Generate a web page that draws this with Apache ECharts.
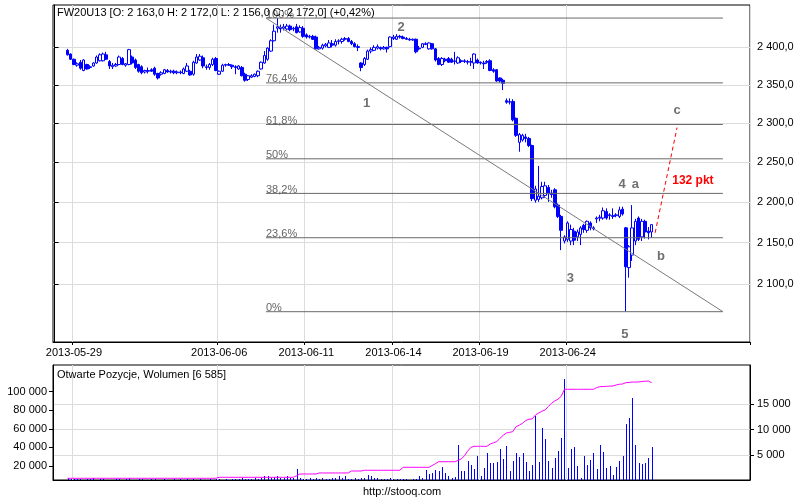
<!DOCTYPE html>
<html><head><meta charset="utf-8">
<script src="https://cdn.jsdelivr.net/npm/echarts@6/dist/echarts.min.js"></script>
<style>html,body{margin:0;padding:0;background:#fff}#c{width:800px;height:500px}</style>
</head><body><div id="c"></div>
<script>
// ---------- data ----------
const tradingDays = ['2013-05-28','2013-05-29','2013-05-31','2013-06-03','2013-06-04','2013-06-05','2013-06-06','2013-06-07','2013-06-10','2013-06-11','2013-06-12','2013-06-13','2013-06-14','2013-06-17','2013-06-18','2013-06-19','2013-06-20','2013-06-21','2013-06-24','2013-06-25','2013-06-26'];
const barsPerDay = [2,9,9,9,9,9,9,9,9,9,9,9,9,9,9,9,9,9,9,9,9];
const labelDates = ['2013-05-29','2013-06-06','2013-06-11','2013-06-14','2013-06-19','2013-06-24'];

// hourly candles [open, high, low, close]
const candles = [
[2396,2398,2389,2390],[2391,2392,2383,2384],[2384,2385,2376,2377],[2376,2380,2374,2378],[2380,2383,2370,2372],
[2369,2384,2368,2383],[2377,2378,2370,2371],[2373,2376,2371,2374],[2375,2380,2374,2379],[2379,2389,2378,2387],
[2382,2392,2381,2390],[2382,2393,2381,2391],[2390,2394,2383,2384],[2381,2383,2371,2375],[2374,2379,2371,2376],
[2375,2379,2374,2377],[2377,2389,2376,2387],[2385,2387,2376,2377],[2376,2379,2374,2378],[2377,2398,2376,2397],
[2387,2389,2377,2379],[2383,2385,2371,2373],[2377,2378,2366,2368],[2374,2376,2364,2366],[2367,2370,2365,2369],
[2368,2373,2365,2369],[2370,2372,2367,2368],[2372,2374,2362,2364],[2365,2366,2357,2359],[2364,2368,2362,2366],
[2365,2371,2364,2370],[2369,2371,2366,2367],[2367,2370,2365,2368],[2368,2370,2364,2366],[2366,2369,2364,2367],
[2367,2369,2364,2366],[2365,2373,2364,2371],[2368,2379,2367,2375],[2368,2370,2362,2363],[2364,2382,2362,2380],
[2379,2391,2378,2387],[2383,2391,2382,2388],[2386,2389,2372,2375],[2373,2377,2370,2374],[2373,2379,2370,2377],
[2377,2386,2375,2384],[2385,2387,2368,2369],[2364,2369,2363,2368],[2368,2378,2367,2376],[2376,2378,2374,2377],
[2377,2379,2375,2376],[2376,2377,2371,2374],[2374,2376,2364,2373],[2371,2376,2370,2375],[2373,2375,2361,2362],
[2364,2366,2354,2356],[2357,2363,2355,2362],[2360,2364,2359,2362],[2361,2365,2360,2364],[2362,2369,2360,2368],
[2371,2381,2370,2380],[2379,2395,2378,2389],[2384,2400,2382,2399],[2395,2411,2394,2409],[2409,2431,2408,2422],
[2426,2440,2420,2428],[2427,2431,2420,2425],[2426,2432,2423,2428],[2425,2432,2423,2429],[2429,2431,2422,2424],
[2425,2428,2422,2426],[2428,2432,2419,2420],[2421,2430,2420,2427],[2426,2429,2413,2415],[2417,2419,2412,2414],
[2414,2417,2412,2415],[2415,2417,2410,2411],[2414,2416,2397,2398],[2398,2402,2397,2400],[2399,2405,2397,2403],
[2402,2406,2400,2404],[2400,2410,2399,2406],[2405,2410,2400,2403],[2403,2411,2401,2408],[2408,2411,2404,2409],
[2408,2413,2405,2411],[2411,2414,2409,2412],[2412,2414,2407,2408],[2408,2410,2403,2405],[2405,2407,2400,2401],
[2401,2404,2395,2400],[2379,2380,2368,2373],[2377,2387,2375,2385],[2384,2397,2383,2395],[2395,2400,2392,2397],
[2396,2403,2395,2400],[2399,2404,2397,2401],[2400,2401,2396,2398],[2398,2402,2397,2400],[2400,2401,2393,2398],
[2401,2415,2400,2414],[2412,2417,2410,2414],[2411,2418,2410,2415],[2415,2417,2412,2414],[2414,2416,2411,2412],
[2412,2414,2410,2411],[2411,2413,2409,2410],[2410,2412,2409,2411],[2411,2412,2392,2394],[2399,2402,2396,2398],
[2400,2406,2399,2405],[2405,2407,2403,2404],[2398,2407,2397,2406],[2405,2406,2397,2398],[2398,2399,2381,2383],
[2385,2387,2376,2377],[2377,2387,2375,2385],[2384,2386,2380,2382],[2385,2387,2379,2380],[2384,2386,2379,2380],
[2381,2394,2377,2382],[2379,2388,2378,2386],[2382,2384,2379,2381],[2382,2384,2379,2381],[2381,2383,2377,2380],
[2380,2386,2375,2381],[2379,2392,2371,2391],[2383,2385,2378,2379],[2380,2381,2377,2379],[2379,2382,2371,2378],
[2380,2383,2378,2381],[2382,2384,2368,2369],[2370,2372,2366,2368],[2370,2371,2354,2355],[2359,2360,2353,2355],
[2356,2358,2343,2352],[2329,2332,2325,2327],[2327,2332,2324,2328],[2328,2331,2302,2304],[2306,2307,2282,2284],
[2275,2287,2263,2285],[2278,2286,2276,2284],[2282,2286,2275,2280],[2280,2282,2269,2271],[2271,2272,2201,2204],
[2202,2220,2199,2216],[2203,2245,2200,2207],[2205,2225,2203,2219],[2208,2225,2205,2220],[2218,2221,2200,2210],
[2211,2215,2205,2209],[2215,2217,2192,2194],[2196,2198,2180,2182],[2182,2184,2141,2165],[2152,2159,2149,2157],
[2154,2176,2151,2174],[2152,2172,2147,2166],[2164,2168,2147,2153],[2157,2166,2152,2163],[2160,2170,2147,2168],
[2171,2173,2162,2166],[2165,2177,2162,2176],[2174,2176,2165,2168],[2168,2170,2165,2167],[2179,2182,2174,2180],
[2180,2184,2176,2181],[2180,2193,2178,2189],[2188,2192,2178,2180],[2184,2186,2178,2183],[2182,2192,2179,2183],
[2183,2186,2181,2184],[2182,2194,2180,2190],[2191,2194,2183,2185],[2168,2169,2068,2121],[2120,2147,2108,2145],
[2135,2196,2128,2168],[2152,2179,2147,2176],[2180,2182,2152,2154],[2157,2179,2152,2176],[2176,2178,2155,2163],
[2164,2169,2154,2162],[2163,2172,2156,2172]
];

const volume = [
300,200,150,100,250,80,120,100,300,90, 110,140,80,90,60,200,120,90,100,300,
70,90,250,130,80,60,100,140,90,70, 120,60,90,110,80,130,70,150,90,100,
60,120,80,90,110,70,150,100,90,130, 80,100,120,140,
450,200,150,250,450,250,300,700,800,450, 500,700,450,300,700,350,400,2100,450,250,
200,450,250,450,250,450,200,250,450,300, 700,300,700,200,250,450,200,450,350,900,
700,300,450,250,250,200,450,150,250,100,
150,150,50,100,250,770,300,1900,1100,1400, 1900,1800,2500,1300,800,400,500,6900,1700,1700,
3700,2900,2100,4700,800,2300,5400,3300,3300,3600, 6100,4100,6700,1800,3800,5400,4600,5300,3600,1800,
2900,12600,3600,10300,8100,3800,2300,4300,5700,8300, 20000,2300,6100,6500,2700,300,4700,2900,4000,5300,
2100,6900,5500,2300,2700,900,2600,3800,4700,11100, 12300,16300,6900,3300,3200,3300,4300,6585
];

const openInterest = [
6760,6760,6760,6760,6760,6760,6760,6760,6760,6760, 6760,6760,6760,6760,6760,6760,6760,6760,6760,6760,
6760,6760,6760,6760,6760,6760,6760,6760,6760,6760, 6760,6760,6760,6760,6760,6760,6760,6760,6760,6760,
6760,6760,6760,6760,6760,6760,6760,
7830,7830,7830,7830,7830,7830,7830,7830,7830,7830, 7830,7830,7830,7830,7830,7830,7830,7830,7830,7830,
7830,7830,7830,7830,
9600,11400,11400,11400,11400,11400,11400,
12500,12500,12500,12500,12500,12500,12500,12500,12500,12500,
14600,14600,14600,14600,
15400,15400,15400,15400,15400,15400,15400,15400,15400,15400,15400,15400,
18600,18600,18600,18600,18600,18600,18600,18600,18600,
20500,22500,24600,24600,24600,24600,24600,24600,
26000,27500,31000,36000,40000,41200,41200,41200,41200,41200,
43700,45000,46200,49800,53000,55500,56200,57000,62300,64000,66000,69000,70300,70700,
74900,77000,79000,80300,84000,87500,90000,92000,95000,
102600,102600,102600,102600,102600,102600,102600,102600,102600,102600,
104400,105400,105600,105800,106000,106100,107200,108000,108300,109700,
110000,110400,110400,110500,111000,111300,111500,109700
];

const priceTicks = [2100,2150,2200,2250,2300,2350,2400];
const oiTicks = [20000,40000,60000,80000,100000];
const volTicks = [5000,10000,15000];

// Fibonacci retracement of the 2440 -> 2068 move
const fibLevels = [2440,2352.5,2298,2254,2210.5,2156,2068];
const fibLabels = ['100%','76,4%','61,8%','50%','38,2%','23,6%','0%'];
const fibStartBar = 65.5, fibEndBar = 207.1;
const trendLine = [[65.5,2440],[207.1,2068]];
const targetLine = [[186.1,2162],[192.9,2294]];

const waveTexts  = ['1','2','3','4','a','5','b','c'];
const waveBars   = [96.7,107.4,159.8,175.9,180.0,176.7,187.9,192.9];
const wavePrices = [2325,2427.5,2107,2221.4,2221.4,2041.6,2133,2315.8];
const targetText = '132 pkt', targetBar = 197.8, targetPrice = 2226.3;

const mainTitle = 'FW20U13 [O: 2 163,0 H: 2 172,0 L: 2 156,0 C: 2 172,0] (+0,42%)';
const lowerTitle = 'Otwarte Pozycje, Wolumen [6 585]';
const footer = 'http://stooq.com';

// ---------- build ----------
const LEAD = 4, TAIL = 30;
const cats = [];
for (let k = 0; k < LEAD; k++) cats.push(' #' + k);
tradingDays.forEach((d, j) => { for (let k = 0; k < barsPerDay[j]; k++) cats.push(d + ' ' + k); });
for (let k = 0; k < TAIL; k++) cats.push(' ~' + k);
const N = cats.length;
const labelIdx = new Set(labelDates.map(d => cats.indexOf(d + ' 0')));
const showAt = (i) => labelIdx.has(i);

const candleData = candles.map((c, k) => [LEAD + k, c[0], c[3], c[2], c[1]]);
const volData = volume.map((v, k) => [LEAD + k, v]);
const oiData = openInterest.map((v, k) => [LEAD + k, v]);

function fmt(v, dec) {
  const s = Number(v).toFixed(dec);
  const parts = s.split('.');
  const ip = parts[0].replace(/\B(?=(\d{3})+(?!\d))/g, ' ');
  return parts[1] ? ip + ',' + parts[1] : ip;
}

const FONT = 'Liberation Sans, Arial, sans-serif';
const GRID_COLOR = '#dcdcdc';

const overlayLines = [];
fibLevels.forEach(v => overlayLines.push({ pts: [[fibStartBar, v], [fibEndBar, v]], color: '#6a6a6a', type: 'solid' }));
overlayLines.push({ pts: trendLine, color: '#7a7a7a', type: 'solid' });
overlayLines.push({ pts: targetLine, color: '#ff0000', type: [4, 3] });

const texts = [];
fibLevels.forEach((v, k) => texts.push({ x: fibStartBar, y: v, t: fibLabels[k], kind: 'fib' }));
waveTexts.forEach((t, k) => texts.push({ x: waveBars[k], y: wavePrices[k], t, kind: 'wave' }));
texts.push({ x: targetBar, y: targetPrice, t: targetText, kind: 'target' });

const chart = echarts.init(document.getElementById('c'), null, { renderer: 'canvas' });
const option = {
  animation: false,
  backgroundColor: '#ffffff',
  textStyle: { fontFamily: FONT, fontSize: 11, color: '#000' },
  grid: [
    { left: 53, top: 5, width: 697, height: 337, show: true, borderColor: '#000', borderWidth: 1, backgroundColor: 'transparent' },
    { left: 53, top: 365, width: 697, height: 115, show: true, borderColor: '#000', borderWidth: 1, backgroundColor: 'transparent' }
  ],
  xAxis: [
    { type: 'category', gridIndex: 0, data: cats, boundaryGap: true,
      axisLine: { show: true, lineStyle: { color: '#000' } },
      axisTick: { show: true, interval: showAt, length: 3, lineStyle: { color: '#000' } },
      axisLabel: { show: true, interval: showAt, formatter: v => v.split(' ')[0], color: '#000', fontSize: 11, fontFamily: FONT, margin: 5 },
      splitLine: { show: true, interval: showAt, lineStyle: { color: GRID_COLOR, width: 1 } } },
    { type: 'value', gridIndex: 0, min: -0.5, max: N - 0.5, show: false },
    { type: 'category', gridIndex: 1, data: cats, boundaryGap: true,
      axisLine: { show: true, lineStyle: { color: '#000' } },
      axisTick: { show: false }, axisLabel: { show: false },
      splitLine: { show: true, interval: showAt, lineStyle: { color: GRID_COLOR, width: 1 } } }
  ],
  yAxis: [
    { type: 'log', logBase: 10, gridIndex: 0, position: 'right', min: 2033, max: 2458,
      axisLine: { show: true, lineStyle: { color: '#000' } },
      axisTick: { show: true, customValues: priceTicks, length: 4, lineStyle: { color: '#000' } },
      axisLabel: { show: true, customValues: priceTicks, formatter: v => fmt(v, 1), color: '#000', fontSize: 11, fontFamily: FONT, margin: 7 },
      splitLine: { show: true, lineStyle: { color: GRID_COLOR, width: 1 } } },
    { type: 'value', gridIndex: 1, position: 'left', min: 4926, max: 128750,
      axisLine: { show: true, lineStyle: { color: '#000' } },
      axisTick: { show: true, customValues: oiTicks, length: 4, lineStyle: { color: '#000' } },
      axisLabel: { show: true, customValues: oiTicks, formatter: v => fmt(v, 0), color: '#000', fontSize: 11, fontFamily: FONT, margin: 6 },
      splitLine: { show: false } },
    { type: 'value', gridIndex: 1, position: 'right', min: 0, max: 22800,
      axisLine: { show: true, lineStyle: { color: '#000' } },
      axisTick: { show: true, customValues: volTicks, length: 4, lineStyle: { color: '#000' } },
      axisLabel: { show: true, customValues: volTicks, formatter: v => fmt(v, 0), color: '#000', fontSize: 11, fontFamily: FONT, margin: 7 },
      splitLine: { show: true, lineStyle: { color: GRID_COLOR, width: 1 } } }
  ],
  series: [
    { type: 'candlestick', xAxisIndex: 0, yAxisIndex: 0, data: candleData,
      encode: { x: 0, y: [1, 2, 3, 4] }, barWidth: 3, z: 3,
      itemStyle: { color: '#ffffff', color0: '#0000ff', borderColor: '#0000ff', borderColor0: '#0000ff', borderColorDoji: '#0000ff', borderWidth: 1 } },
    ...overlayLines.map(l => ({
      type: 'line', xAxisIndex: 1, yAxisIndex: 0, data: l.pts, symbol: 'none', silent: true, z: 4,
      lineStyle: { color: l.color, width: 1, type: l.type }
    })),
    { type: 'custom', xAxisIndex: 1, yAxisIndex: 0, z: 5, silent: true,
      data: texts.map(t => [t.x, t.y]),
      renderItem: (params, api) => {
        const t = texts[params.dataIndex];
        const p = api.coord([api.value(0), api.value(1)]);
        if (t.kind === 'fib') {
          return { type: 'text', x: p[0], y: p[1] + 2, style: { text: t.t, fill: '#666666', font: '11px ' + FONT, align: 'left', verticalAlign: 'bottom' } };
        }
        if (t.kind === 'target') {
          return { type: 'text', x: p[0], y: p[1], style: { text: t.t, fill: '#ff0000', font: 'bold 12px ' + FONT, align: 'center', verticalAlign: 'middle' } };
        }
        return { type: 'text', x: p[0], y: p[1], style: { text: t.t, fill: '#707070', font: 'bold 13px ' + FONT, align: 'center', verticalAlign: 'middle' } };
      } },
    { type: 'custom', xAxisIndex: 2, yAxisIndex: 2, z: 3, silent: true, data: volData,
      renderItem: (params, api) => {
        const top = api.coord([api.value(0), api.value(1)]);
        const base = api.coord([api.value(0), 0]);
        const x = Math.round(top[0]) + 0.5;
        return { type: 'line', shape: { x1: x, y1: Math.round(base[1]), x2: x, y2: Math.round(top[1]) },
                 style: { stroke: '#0000ff', lineWidth: 1 } };
      } },
    { type: 'line', xAxisIndex: 2, yAxisIndex: 1, data: oiData, symbol: 'none', z: 4,
      lineStyle: { color: '#ff00ff', width: 1 } }
  ],
  graphic: [
    { type: 'text', left: 57, top: 7, z: 10, style: { text: mainTitle, fill: '#000', font: '11px ' + FONT } },
    { type: 'text', left: 57, top: 369, z: 10, style: { text: lowerTitle, fill: '#000', font: '11px ' + FONT } },
    { type: 'text', left: 363, top: 486, z: 10, style: { text: footer, fill: '#000', font: '11px ' + FONT } }
  ]
};
chart.setOption(option);
</script>
</body></html>
